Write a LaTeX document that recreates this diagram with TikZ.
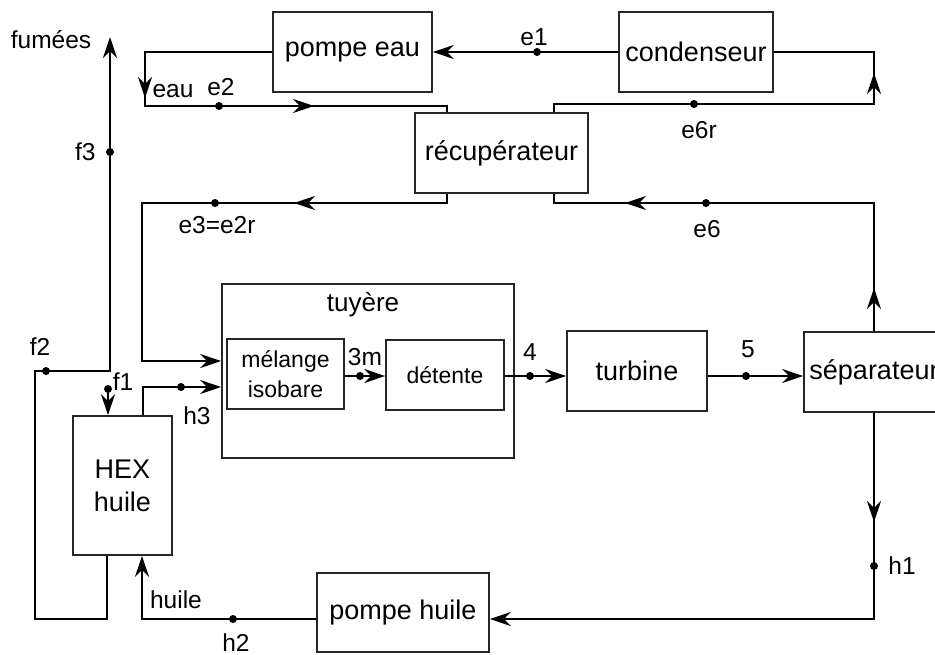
\documentclass[tikz,border=0pt]{standalone}
\usepackage{fontspec}
\setmainfont{Liberation Sans}
\usetikzlibrary{arrows.meta, positioning, calc}

\tikzset{
  unitbox/.style={draw=black!85, fill=white, line width=1.6pt, inner sep=0pt,
    font=\fontsize{27}{33}\selectfont},
  subbox/.style={unitbox, font=\fontsize{23}{30}\selectfont, align=center},
  flow/.style={line width=1.8pt},
  arrowend/.style={-{Stealth[length=21pt, width=14pt, inset=7pt]}},
  midarr/.style={flow, arrowend},
  dotmark/.style={circle, fill, inner sep=0pt, minimum size=8pt},
  lbl/.style={inner sep=0pt, font=\fontsize{24.5}{29}\selectfont},
}

\begin{document}
\begin{tikzpicture}[x=1pt, y=-1pt]
  \useasboundingbox (0,0) rectangle (935,654);
  \clip (0,0) rectangle (935,654);

  % Units
  \node[unitbox, minimum width=159pt, minimum height=80pt] (pompeeau) at (352.5,52) {pompe eau};
  \node[unitbox, minimum width=154pt, minimum height=80pt] (condenseur) at (696,52) {condenseur};
  \node[unitbox, minimum width=173pt, minimum height=80pt] (recup) at (501.5,153) {récupérateur};
  \node[unitbox, minimum width=292pt, minimum height=174pt] (tuyere) at (368,371) {};
  \node[lbl, font=\fontsize{26}{31}\selectfont] (tuyerelbl) at (363,305) {tuyère};
  \node[subbox, minimum width=117pt, minimum height=70pt] (melange) at (285.5,374) {mélange\\isobare};
  \node[subbox, minimum width=118pt, minimum height=70pt] (detente) at (445,375) {détente};
  \node[unitbox, minimum width=140pt, minimum height=80pt] (turbine) at (637,371) {turbine};
  \node[unitbox, minimum width=140pt, minimum height=80pt] (sep) at (874,372) {séparateur};
  \node[unitbox, minimum width=99pt, minimum height=139pt, align=center] (hex) at (122.5,485.5) {HEX\\huile};
  \node[unitbox, minimum width=172pt, minimum height=79pt] (pompehuile) at (403,612.5) {pompe huile};

  \coordinate (flowy) at (0,376);

  % Water loop
  \coordinate (eauA) at (145,52);
  \coordinate (eauB) at (145,106);
  \coordinate (eauC) at (447,106);
  \draw[flow] (pompeeau.west) -- (eauA) -- (eauB) -- (eauC) -- (eauC |- recup.north);
  \draw[midarr] (eauA) -- (145,98);
  \draw[midarr] (eauB) -- (314,106);
  \draw[flow, arrowend] (condenseur.west) -- (pompeeau.east);

  \coordinate (rbl) at (447,203);
  \coordinate (e3c) at (142,203);
  \coordinate (e3d) at (142,361);
  \draw[flow, arrowend] (rbl |- recup.south) -- (rbl) -- (e3c) -- (e3d) -- (e3d -| tuyere.west);
  \draw[midarr] (rbl) -- (294,203);

  \coordinate (e6c) at (874,203);
  \coordinate (rbr) at (554,203);
  \draw[flow] (sep.north) -- (e6c) -- (rbr) -- (rbr |- recup.south);
  \draw[midarr] (sep.north) -- (874,288);
  \draw[midarr] (e6c) -- (625,203);

  \coordinate (rtr) at (554,104);
  \coordinate (e6rc) at (874,104);
  \coordinate (condc) at (874,52);
  \draw[flow] (rtr |- recup.north) -- (rtr) -- (e6rc) -- (condc) -- (condenseur.east);
  \draw[midarr] (e6rc) -- (874,73);

  % Main flow
  \draw[flow, arrowend] (melange.east |- flowy) -- (detente.west |- flowy);
  \draw[flow, arrowend] (detente.east |- flowy) -- (turbine.west |- flowy);
  \draw[flow, arrowend] (turbine.east |- flowy) -- (sep.west |- flowy);

  % Oil loop
  \coordinate (h1c) at (874,619);
  \draw[flow, arrowend] (sep.south) -- (h1c) -- (h1c -| pompehuile.east);
  \draw[midarr] (sep.south) -- (874,522);
  \coordinate (h2c) at (142,619);
  \draw[flow, arrowend] (h2c -| pompehuile.west) -- (h2c) -- (h2c |- hex.south);
  \coordinate (h3c) at (143,387);
  \draw[flow, arrowend] (h3c |- hex.north) -- (h3c) -- (h3c -| tuyere.west);

  % Fumes
  \coordinate (f2a) at (107,619);
  \coordinate (f2b) at (35,619);
  \coordinate (f2c) at (35,371);
  \coordinate (fum) at (110,37);
  \draw[flow, arrowend] (f2a |- hex.south) -- (f2a) -- (f2b) -- (f2c) -- (fum |- f2c) -- (fum);

  % Points
  \node[dotmark] (e1) at (537,52) {};
  \node[dotmark] (e2) at (219,106) {};
  \node[dotmark] (f3) at (110,152) {};
  \node[dotmark] (e3) at (215,203) {};
  \node[dotmark] (e6r) at (694,104) {};
  \node[dotmark] (e6) at (706,203) {};
  \node[dotmark] (f2) at (46,371) {};
  \node[dotmark] (f1) at (108,389) {};
  \node[dotmark] (h3) at (181,387) {};
  \node[dotmark] (p3m) at (360,376) {};
  \node[dotmark] (p4) at (530,376) {};
  \node[dotmark] (p5) at (746,376) {};
  \node[dotmark] (h1) at (874,566) {};
  \node[dotmark] (h2) at (233,619) {};
  \draw[flow, arrowend] (f1) -- (f1 |- hex.north);

  % Labels
  \node[lbl] (fumeeslbl) at (51,40) {fumées};
  \node[lbl] (e1lbl) at (534,37) {e1};
  \node[lbl] (eaulbl) at (173,91) {eau};
  \node[lbl] (e2lbl) at (221,87) {e2};
  \node[lbl, left=10pt of f3] (f3lbl) {f3};
  \node[lbl] (e3lbl) at (217,225) {e3=e2r};
  \node[lbl] (e6rlbl) at (699,130) {e6r};
  \node[lbl] (e6lbl) at (707,229) {e6};
  \node[lbl] (f2lbl) at (40,347) {f2};
  \node[lbl] (f1lbl) at (123,382) {f1};
  \node[lbl] (h3lbl) at (197,416) {h3};
  \node[lbl] (p3mlbl) at (365,357) {3m};
  \node[lbl] (p4lbl) at (530,352) {4};
  \node[lbl] (p5lbl) at (748,349) {5};
  \node[lbl, right=10pt of h1] (h1lbl) {h1};
  \node[lbl] (huilelbl) at (176,600) {huile};
  \node[lbl] (h2lbl) at (236,643) {h2};
\end{tikzpicture}
\end{document}
